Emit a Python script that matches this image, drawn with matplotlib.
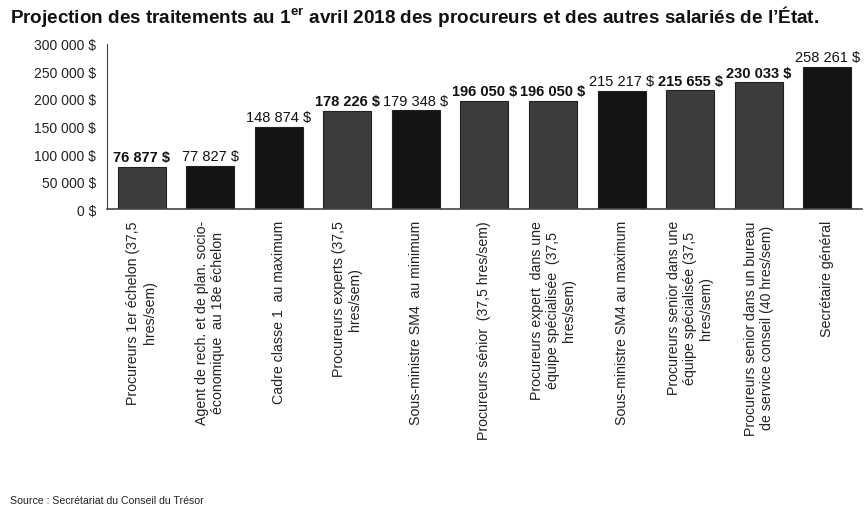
import matplotlib
matplotlib.use("Agg")
import matplotlib.pyplot as plt
from matplotlib.ticker import FuncFormatter

plt.rcParams['font.family'] = ['Liberation Sans', 'DejaVu Sans']
plt.rcParams['mathtext.fontset'] = 'custom'
plt.rcParams['mathtext.rm'] = 'Liberation Sans'
plt.rcParams['mathtext.bf'] = 'Liberation Sans:bold'

# data
categories = [
    "Procureurs 1er échelon (37,5\nhres/sem)",
    "Agent de rech. et de plan. socio-\néconomique  au 18e échelon",
    "Cadre classe 1  au maximum",
    "Procureurs experts (37,5\nhres/sem)",
    "Sous-ministre SM4  au minimum",
    "Procureurs sénior  (37,5 hres/sem)",
    "Procureurs expert  dans une\néquipe spécialisée  (37,5\nhres/sem)",
    "Sous-ministre SM4 au maximum",
    "Procureurs senior dans une\néquipe spécialisée (37,5\nhres/sem)",
    "Procureurs senior dans un bureau\nde service conseil (40 hres/sem)",
    "Secrétaire général",
]
salaries = [76877, 77827, 148874, 178226, 179348, 196050, 196050,
            215217, 215655, 230033, 258261]
is_procureur = [True, False, False, True, False, True, True,
                False, True, True, False]


def money(v, pos=None):
    return "{:,}".format(int(v)).replace(",", " ") + " $"


fig = plt.figure(figsize=(8.65, 5.10), dpi=100)
ax = fig.add_axes([0.124, 0.588, 0.872, 0.324])

x = list(range(len(salaries)))
colors = ["#3c3c3c" if p else "#141414" for p in is_procureur]
ax.bar(x, salaries, width=0.7, color=colors, edgecolor="#222222", linewidth=0.8)

for xi, v, p in zip(x, salaries, is_procureur):
    ax.text(xi, v + 5000, money(v), ha="center", va="bottom", fontsize=10.5,
            fontweight="bold" if p else "normal", color="#111111")

ax.set_xlim(-0.5, len(salaries) - 0.5)
ax.set_ylim(0, 300000)
ax.set_yticks(range(0, 300001, 50000))
ax.yaxis.set_major_formatter(FuncFormatter(money))
ax.tick_params(axis="y", labelsize=10, length=0, pad=8, labelcolor="#222222")
ax.set_xticks(x)
ax.set_xticklabels(categories, rotation=90, fontsize=10.2, va="top",
                   ha="center", multialignment="center", color="#222222")
ax.tick_params(axis="x", length=0, pad=8)

for s in ["top", "right"]:
    ax.spines[s].set_visible(False)
ax.spines["left"].set_color("#444444")
ax.spines["bottom"].set_color("#444444")
ax.spines["bottom"].set_linewidth(1.2)

fig.text(0.012, 0.968,
         r"Projection des traitements au 1$^{\mathbf{er}}$ avril 2018 des procureurs et des autres salariés de l’État.",
         fontsize=13.6, fontweight="bold", ha="left", va="center", color="#111111")
fig.text(0.012, 0.008, "Source : Secrétariat du Conseil du Trésor",
         fontsize=7.6, ha="left", va="bottom", color="#222222")

fig.savefig("out.png", dpi=100)
